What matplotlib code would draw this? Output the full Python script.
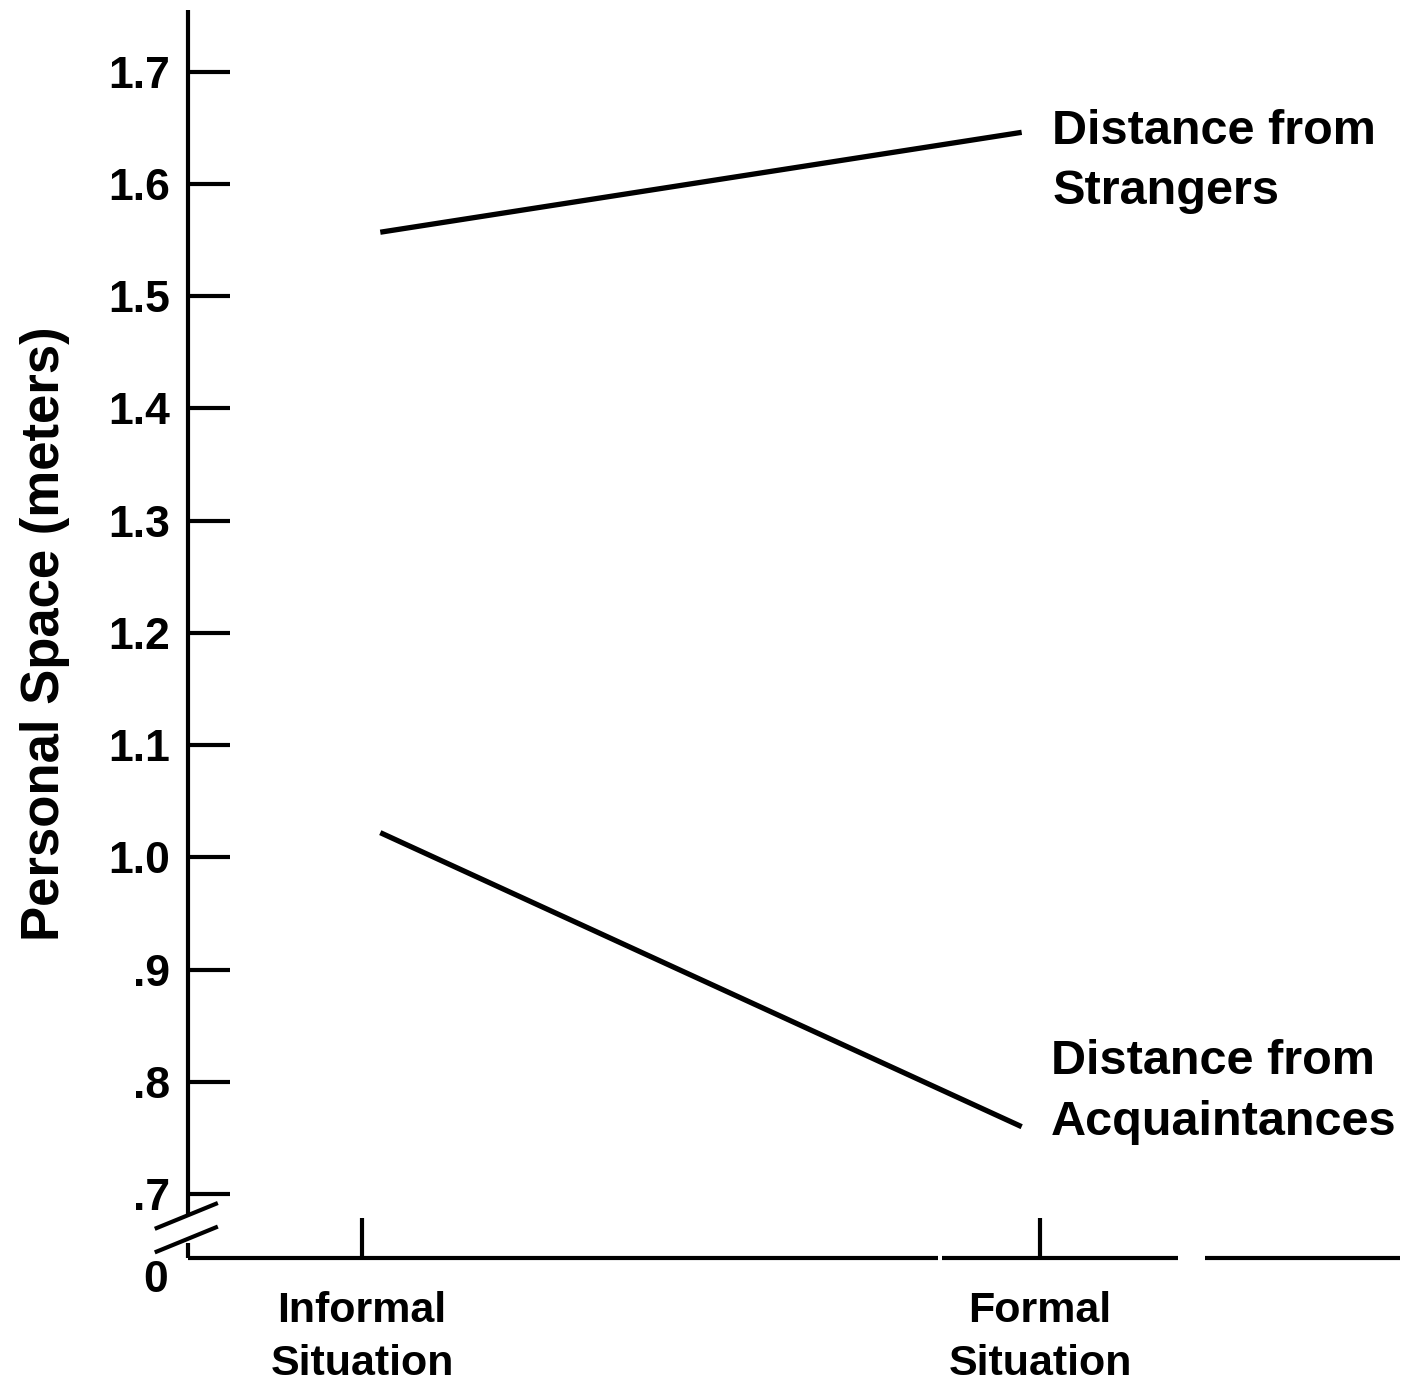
import matplotlib
matplotlib.use("Agg")
import matplotlib.pyplot as plt

plt.rcParams["font.family"] = ["Liberation Sans", "DejaVu Sans"]
plt.rcParams["font.weight"] = "bold"
plt.rcParams["axes.labelweight"] = "bold"

# data (meters)
situations = ["Informal\nSituation", "Formal\nSituation"]
strangers = [1.557, 1.646]
acquaintances = [1.022, 0.760]
yticks = [0.7, 0.8, 0.9, 1.0, 1.1, 1.2, 1.3, 1.4, 1.5, 1.6, 1.7]
ytick_labels = [".7", ".8", ".9", "1.0", "1.1", "1.2", "1.3", "1.4", "1.5", "1.6", "1.7"]
series_labels = ["Distance from\nStrangers", "Distance from\nAcquaintances"]

W, H = 1403, 1393
fig = plt.figure(figsize=(W / 100, H / 100), dpi=100)
ax = fig.add_axes([188 / W, (H - 1258) / H, (1400 - 188) / W, (1258 - 10) / H])
ax.set_xlim(-0.2566, 1.531)
ybot, ytop = 0.643, 1.755
ax.set_ylim(ybot, ytop)
for s in ax.spines.values():
    s.set_visible(False)

lw_axis = 3.0
k = dict(color="black", lw=lw_axis, clip_on=False, solid_capstyle="butt")
x0 = ax.get_xlim()[0]
# y axis with break
ax.plot([x0, x0], [0.681, ytop], **k)
ax.plot([x0, x0], [0.656, ybot], **k)
ax.plot([x0 - 0.049, x0 + 0.044], [0.669, 0.692], **k)
ax.plot([x0 - 0.049, x0 + 0.044], [0.648, 0.671], **k)
# x axis, drawn in pieces like the original
ax.plot([x0, 0.85], [ybot, ybot], **k)
ax.plot([0.855, 1.204], [ybot, ybot], **k)
ax.plot([1.244, 1.531], [ybot, ybot], **k)

ax.set_yticks(yticks, ytick_labels)
ax.tick_params(axis="y", direction="in", length=30, width=lw_axis, pad=13,
               labelsize=32)
xpos = list(range(len(situations)))
ax.set_xticks(xpos, situations)
ax.tick_params(axis="x", direction="in", length=29, width=lw_axis, pad=24,
               labelsize=31)
for t in ax.get_xticklabels():
    t.set_linespacing(1.4)
ax.text(x0, ybot, "0", fontsize=32, ha="right", va="center",
        transform=ax.transData + matplotlib.transforms.ScaledTranslation(-20 / 100, -22 / 100, fig.dpi_scale_trans))

ax.set_ylabel("Personal Space (meters)", fontsize=38, fontweight="bold")
ax.yaxis.set_label_coords(-0.0974, 0.50)

inset = 0.027
xs = [xpos[0] + inset, xpos[1] - inset]
ax.plot(xs, strangers, color="black", lw=3.8, solid_capstyle="butt")
ax.plot(xs, acquaintances, color="black", lw=3.8, solid_capstyle="butt")

ax.annotate(series_labels[0], (xs[1], strangers[1]), xytext=(22, -21),
            textcoords="offset points", ha="left", va="center", fontsize=35,
            linespacing=1.45)
ax.annotate(series_labels[1], (xs[1], acquaintances[1]), xytext=(21, 25),
            textcoords="offset points", ha="left", va="center", fontsize=35,
            linespacing=1.45)

fig.savefig("out.png", dpi=100, facecolor="white")
